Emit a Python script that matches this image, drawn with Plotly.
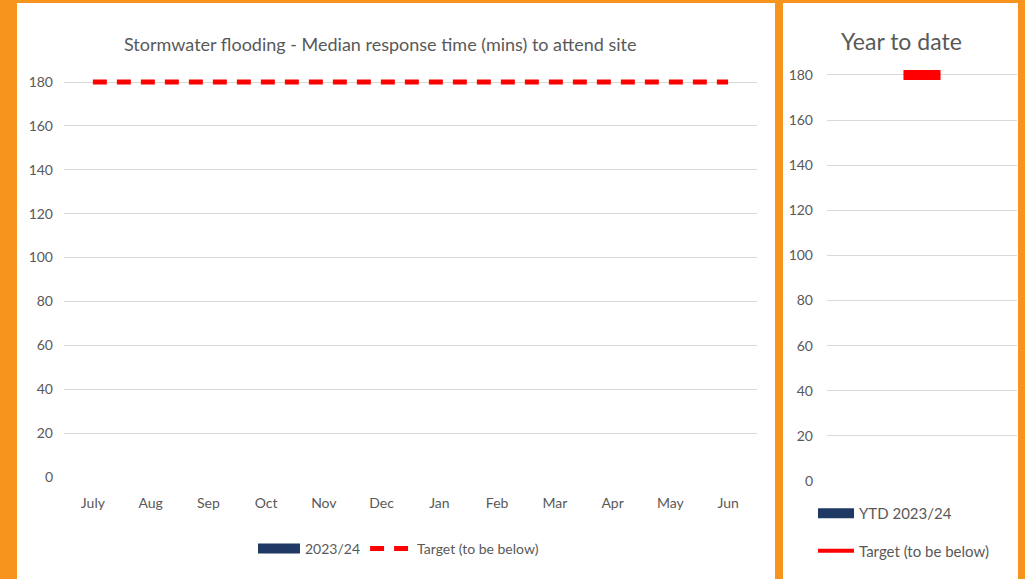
import plotly.graph_objects as go

# ---- data ----
months = ["July", "Aug", "Sep", "Oct", "Nov", "Dec", "Jan", "Feb", "Mar", "Apr", "May", "Jun"]
actual_2324 = [None, None, None, None, None, None, None, None, None, None, None, None]
target_monthly = [180, 180, 180, 180, 180, 180, 180, 180, 180, 180, 180, 180]
ytd_category = ["YTD"]
ytd_actual = [None]
ytd_target = [180]
y_ticks = [0, 20, 40, 60, 80, 100, 120, 140, 160, 180]

W, H = 1025, 579
ORANGE = "#F7941D"
NAVY = "#1F3864"
RED = "#FF0000"
GREY = "#595959"
GRID = "#D9D9D9"
FONT = "Lato, Open Sans, sans-serif"
Y_MAX = 186  # a little headroom so the 180 target is not clipped


def px_x(p):
    return p / W


def px_y(p):
    return 1 - p / H


# pixel positions of 0 and 180 on each panel
L_ZERO, L_180 = 477, 82
R_ZERO, R_180 = 481, 75
l_top = L_ZERO - (L_ZERO - L_180) * Y_MAX / 180
r_top = R_ZERO - (R_ZERO - R_180) * Y_MAX / 180

fig = go.Figure()

# left chart
fig.add_trace(go.Bar(x=months, y=actual_2324, name="2023/24", marker_color=NAVY,
                     xaxis="x", yaxis="y", showlegend=False))
fig.add_trace(go.Scatter(x=months, y=target_monthly, name="Target (to be below)", mode="lines",
                         line=dict(color=RED, width=5, dash="14px,10px"),
                         xaxis="x", yaxis="y", showlegend=False))
# legend keys (left)
fig.add_trace(go.Scatter(x=[None], y=[None], name="2023/24", mode="lines",
                         line=dict(color=NAVY, width=11), legend="legend", xaxis="x", yaxis="y"))
fig.add_trace(go.Scatter(x=[None], y=[None], name="Target (to be below)", mode="lines",
                         line=dict(color=RED, width=5, dash="14px,10px"), legend="legend",
                         xaxis="x", yaxis="y"))

# right chart
fig.add_trace(go.Bar(x=ytd_category, y=ytd_actual, name="YTD 2023/24", marker_color=NAVY,
                     xaxis="x2", yaxis="y2", showlegend=False))
fig.add_trace(go.Scatter(x=ytd_category, y=ytd_target, name="Target (to be below)", mode="markers",
                         marker=dict(symbol="line-ew", size=26.5, color=RED,
                                     line=dict(color=RED, width=10)),
                         cliponaxis=False, xaxis="x2", yaxis="y2", showlegend=False))
fig.add_trace(go.Scatter(x=[None], y=[None], name="YTD 2023/24", mode="lines",
                         line=dict(color=NAVY, width=11), legend="legend2", legendgroup="a",
                         xaxis="x2", yaxis="y2"))
fig.add_trace(go.Scatter(x=[None], y=[None], name="Target (to be below)", mode="lines",
                         line=dict(color=RED, width=4), legend="legend2", legendgroup="b",
                         xaxis="x2", yaxis="y2"))

axis_common = dict(showgrid=True, gridcolor=GRID, gridwidth=1, zeroline=False, ticks="",
                   tickfont=dict(family=FONT, size=14, color=GREY), fixedrange=True)

fig.update_layout(
    width=W, height=H,
    margin=dict(l=0, r=0, t=0, b=0, autoexpand=False),
    paper_bgcolor=ORANGE, plot_bgcolor="rgba(0,0,0,0)",
    font=dict(family=FONT, color=GREY),
    bargap=0.4,
    xaxis=dict(domain=[px_x(64), px_x(757)], type="category", showgrid=False, zeroline=False,
               showline=False, ticks="", ticklabelstandoff=16, automargin=False,
               tickfont=dict(family=FONT, size=14, color=GREY), fixedrange=True),
    yaxis=dict(domain=[px_y(L_ZERO), px_y(l_top)], range=[0, Y_MAX], tickvals=y_ticks,
               ticklabelstandoff=10, automargin=False, **axis_common),
    xaxis2=dict(domain=[px_x(827), px_x(1017)], type="category", showgrid=False, zeroline=False,
                showline=False, showticklabels=False, ticks="", fixedrange=True, automargin=False),
    yaxis2=dict(domain=[px_y(R_ZERO), px_y(r_top)], range=[0, Y_MAX], tickvals=y_ticks,
                ticklabelstandoff=13, anchor="x2", automargin=False, **axis_common),
    legend=dict(orientation="h", x=px_x(253), y=px_y(549), xanchor="left", yanchor="middle",
                bgcolor="rgba(0,0,0,0)", itemwidth=42, font=dict(family=FONT, size=14, color=GREY)),
    legend2=dict(orientation="v", x=px_x(813), y=px_y(497), xanchor="left", yanchor="top",
                 bgcolor="rgba(0,0,0,0)", itemwidth=36, tracegroupgap=15,
                 font=dict(family=FONT, size=15, color=GREY)),
    shapes=[
        dict(type="rect", xref="paper", yref="paper", layer="below",
             x0=px_x(17), x1=px_x(775), y0=0, y1=px_y(3), fillcolor="white", line=dict(width=0)),
        dict(type="rect", xref="paper", yref="paper", layer="below",
             x0=px_x(783), x1=px_x(1018), y0=0, y1=px_y(3), fillcolor="white", line=dict(width=0)),
    ],
    annotations=[
        dict(text="Stormwater flooding - Median response time (mins) to attend site",
             xref="paper", yref="paper", x=px_x(380), y=px_y(44), showarrow=False,
             xanchor="center", yanchor="middle", font=dict(family=FONT, size=18, color=GREY)),
        dict(text="Year to date", xref="paper", yref="paper", x=px_x(901), y=px_y(41),
             showarrow=False, xanchor="center", yanchor="middle",
             font=dict(family=FONT, size=23, color=GREY)),
    ],
)

fig.write_html("out.html", config={"displayModeBar": False},
               post_script="document.body.style.margin='0';")
